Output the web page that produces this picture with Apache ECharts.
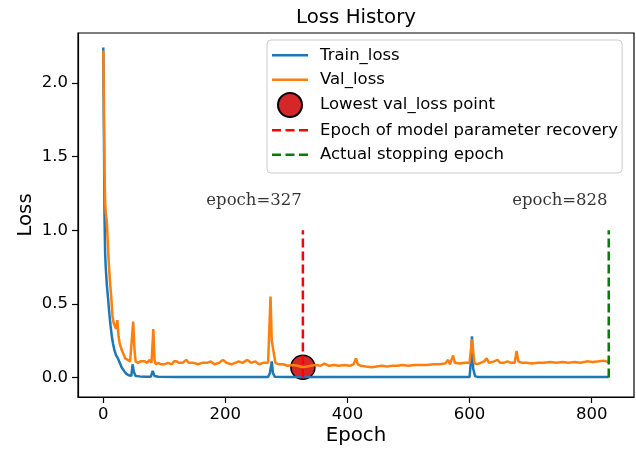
<!DOCTYPE html>
<html><head><meta charset="utf-8">
<script src="https://cdn.jsdelivr.net/npm/echarts@6/dist/echarts.min.js"></script>
<style>html,body{margin:0;padding:0;background:#fff}#c{width:636px;height:451px}</style>
</head><body><div id="c"></div>
<script>
// ---- data ----
const trainEpochs = [0,1,2,3,4,6,8,10,12,14,16,18,21,24,27,30,34,38,42,46,48,50,53,60,70,78,81,84,90,120,200,270,273,276,278,281,300,400,500,600,602,604,606,609,614,700,828];
const trainLoss   = [2.24,1.70,1.10,0.85,0.75,0.62,0.53,0.43,0.35,0.28,0.23,0.19,0.15,0.13,0.10,0.07,0.045,0.025,0.015,0.012,0.09,0.04,0.01,0.008,0.006,0.006,0.045,0.01,0.005,0.004,0.004,0.004,0.03,0.11,0.03,0.005,0.003,0.003,0.003,0.003,0.10,0.28,0.06,0.01,0.003,0.003,0.003];

const valEpochs = [0,1,2,3,4,6,7,9,11,13,15,17,19,21,23,25,27,30,33,36,40,44,47,49,51,53,57,61,64,68,72,76,79,82,84,86,90,95,100,106,112,116,120,124,130,136,140,148,155,162,170,176,182,190,196,202,210,216,222,228,236,242,249,255,262,270,274,276,278,280,282,288,295,302,310,318,327,334,340,348,356,362,370,378,386,395,404,410,414,417,422,430,440,448,456,465,474,482,490,500,510,520,530,540,550,560,565,568,573,576,584,592,600,602,604,606,608,612,618,624,628,632,640,646,650,656,662,668,674,677,680,686,694,702,712,722,732,742,752,762,772,782,792,802,812,820,824,828];
const valLoss   = [2.22,1.90,1.40,1.20,1.12,1.05,0.95,0.78,0.65,0.55,0.42,0.37,0.36,0.33,0.39,0.28,0.23,0.19,0.16,0.13,0.12,0.11,0.12,0.38,0.20,0.11,0.10,0.11,0.10,0.11,0.10,0.12,0.10,0.33,0.12,0.09,0.10,0.09,0.09,0.10,0.09,0.11,0.11,0.10,0.10,0.12,0.10,0.10,0.09,0.10,0.10,0.11,0.09,0.10,0.12,0.10,0.09,0.10,0.11,0.10,0.12,0.10,0.11,0.09,0.10,0.10,0.55,0.25,0.20,0.20,0.10,0.09,0.09,0.08,0.085,0.08,0.07,0.075,0.08,0.085,0.08,0.095,0.08,0.085,0.08,0.085,0.08,0.09,0.13,0.09,0.08,0.075,0.07,0.075,0.08,0.075,0.08,0.08,0.085,0.08,0.085,0.085,0.085,0.09,0.09,0.095,0.12,0.09,0.15,0.10,0.095,0.10,0.10,0.10,0.26,0.26,0.10,0.09,0.10,0.11,0.13,0.10,0.11,0.12,0.10,0.10,0.11,0.10,0.10,0.18,0.11,0.10,0.10,0.095,0.10,0.10,0.105,0.10,0.105,0.10,0.105,0.10,0.11,0.105,0.11,0.115,0.11,0.105];

const bestEpoch = 327;
const bestVal = 0.07;
const stopEpoch = 828;
const vlineRange = [0, 1];
const annotY = 1.2;
const xTicks = [0, 200, 400, 600, 800];
const yTicks = [0.0, 0.5, 1.0, 1.5, 2.0];
const legendNames = ['Train_loss', 'Val_loss', 'Lowest val_loss point', 'Epoch of model parameter recovery', 'Actual stopping epoch'];

// ---- chart ----
const FONT = 'DejaVu Sans';
const zip = (xs, ys) => xs.map((x, i) => [x, ys[i]]);
const ICON_SOLID = 'path://M0,0h36v2.5h-36z';
const ICON_DASH = 'path://M0,0h9v2.5h-9zM13.5,0h9v2.5h-9zM27,0h9v2.5h-9z';
const legendIcons = [ICON_SOLID, ICON_SOLID, 'circle', ICON_DASH, ICON_DASH];

const chart = echarts.init(document.getElementById('c'), null, {renderer: 'canvas'});
chart.setOption({
  animation: false,
  backgroundColor: '#fff',
  title: {
    text: 'Loss History', left: 296, top: 8, padding: 0,
    textStyle: {fontFamily: FONT, fontSize: 19.8, fontWeight: 'normal', color: '#000'}
  },
  grid: {left: 78, right: 2, top: 33, bottom: 53, show: true, borderColor: '#000', borderWidth: 1.2, backgroundColor: 'transparent'},
  legend: {
    orient: 'vertical', left: 267, top: 40,
    padding: [3, 4, 6, 5],
    itemWidth: 36, itemHeight: 24, itemGap: 0,
    borderColor: '#cccccc', borderWidth: 1, borderRadius: 4,
    backgroundColor: 'rgba(255,255,255,0.8)',
    data: legendNames.map((n, i) => ({name: n, icon: legendIcons[i]})),
    textStyle: {fontFamily: FONT, fontSize: 16.5, color: '#000', lineHeight: 24.5, padding: [0, 0, 0, 7]}
  },
  xAxis: {
    type: 'value', min: -41.4, max: 869.4,
    name: 'Epoch', nameLocation: 'middle', nameGap: 29, nameMoveOverlap: false,
    nameTextStyle: {fontFamily: FONT, fontSize: 19.8, color: '#000'},
    axisLine: {show: true, onZero: false, lineStyle: {color: '#000', width: 1.2}},
    axisTick: {show: true, inside: false, length: 6, customValues: xTicks, lineStyle: {color: '#000', width: 1.2}},
    axisLabel: {customValues: xTicks, margin: 9, fontFamily: FONT, fontSize: 16.5, color: '#000'},
    splitLine: {show: false}
  },
  yAxis: {
    type: 'value', min: -0.132, max: 2.339,
    name: 'Loss', nameLocation: 'middle', nameGap: 42, nameMoveOverlap: false,
    nameTextStyle: {fontFamily: FONT, fontSize: 19.8, color: '#000'},
    axisLine: {show: true, onZero: false, lineStyle: {color: '#000', width: 1.2}},
    axisTick: {show: true, inside: false, length: 6, customValues: yTicks, lineStyle: {color: '#000', width: 1.2}},
    axisLabel: {customValues: yTicks, margin: 10, fontFamily: FONT, fontSize: 16.5, color: '#000', formatter: v => v.toFixed(1)},
    splitLine: {show: false}
  },
  series: [
    {name: 'Train_loss', type: 'line', data: zip(trainEpochs, trainLoss), symbol: 'none', showSymbol: false,
      itemStyle: {color: '#1f77b4'}, lineStyle: {color: '#1f77b4', width: 2.5}},
    {name: 'Val_loss', type: 'line', data: zip(valEpochs, valLoss), symbol: 'none', showSymbol: false,
      itemStyle: {color: '#ff7f0e'}, lineStyle: {color: '#ff7f0e', width: 2.5}},
    {name: 'Lowest val_loss point', type: 'scatter', data: [[bestEpoch, bestVal]], symbol: 'circle', symbolSize: 24,
      itemStyle: {color: '#d62728', borderColor: '#000', borderWidth: 1.5, opacity: 1}},
    {name: 'Epoch of model parameter recovery', type: 'line', data: vlineRange.map(v => [bestEpoch, v]), symbol: 'none', showSymbol: false,
      itemStyle: {color: '#ff0000'}, lineStyle: {color: '#ff0000', width: 2.5, type: [9, 4]}},
    {name: 'Actual stopping epoch', type: 'line', data: vlineRange.map(v => [stopEpoch, v]), symbol: 'none', showSymbol: false,
      itemStyle: {color: '#008000'}, lineStyle: {color: '#008000', width: 2.5, type: [9, 4]}},
    {name: 'annotations', type: 'scatter', symbolSize: 0, silent: true,
      data: [[bestEpoch - 80, annotY, 'epoch=' + bestEpoch], [stopEpoch - 80, annotY, 'epoch=' + stopEpoch]],
      label: {show: true, position: 'inside', formatter: p => p.data[2], fontFamily: 'DejaVu Serif', fontSize: 16.5, color: '#000'}}
  ]
});
</script></body></html>
